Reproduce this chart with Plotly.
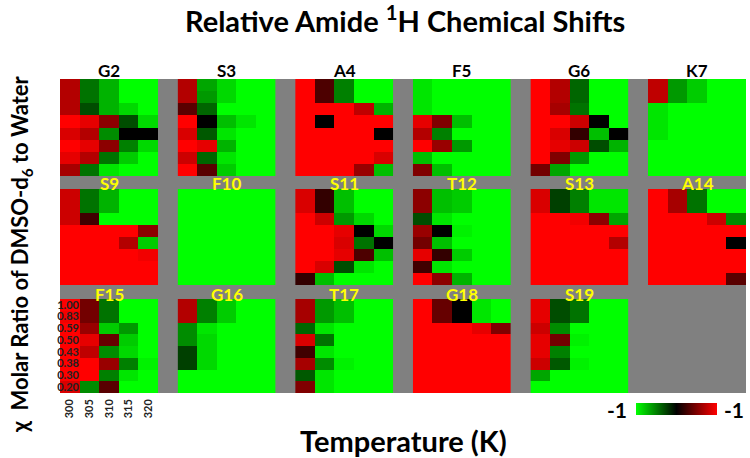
import plotly.graph_objects as go

W, H = 750, 458

temperatures = [300, 305, 310, 315, 320]
ratios = ["1.00", "0.83", "0.59", "0.50", "0.43", "0.38", "0.30", "0.20"]
residues = ["G2", "S3", "A4", "F5", "G6", "K7",
            "S9", "F10", "S11", "T12", "S13", "A14",
            "F15", "G16", "T17", "G18", "S19"]

G2 = [[0.7, -0.45, -0.7, -1, -1],
      [0.7, -0.45, -0.7, -1, -1],
      [0.7, -0.3, -0.7, -0.85, -1],
      [1, 0.9, 0.55, -0.3, -0.85],
      [0.85, 0.7, -0.55, 0, 0],
      [1, 0.9, 0.55, -0.5, -0.85],
      [0.9, 0.7, -0.45, -0.8, -1],
      [0.65, -0.45, -0.9, -1, -1]]
S3 = [[0.7, -0.65, -0.85, -1, -1],
      [0.7, -0.6, -0.85, -1, -1],
      [0.35, -0.4, -1, -1, -1],
      [1, 0, -0.75, -0.9, -1],
      [0.85, -0.35, -0.9, -1, -1],
      [1, 0.9, -0.7, -1, -1],
      [0.8, -0.4, -0.9, -1, -1],
      [1, 0.35, -0.8, -1, -1]]
A4 = [[1, 0.3, -0.5, -1, -1],
      [1, 0.3, -0.5, -1, -1],
      [1, 1, 1, 0.75, -0.7],
      [1, 0, 1, 1, 1],
      [1, 1, 1, 1, 0],
      [1, 1, 1, 1, 1],
      [1, 1, 1, 1, 0.85],
      [1, 1, 1, 0.6, -0.75]]
F5 = [[-0.9, -1, -1, -1, -1],
      [-0.9, -1, -1, -1, -1],
      [-0.9, -1, -1, -1, -1],
      [0.9, 0.5, -0.75, -1, -1],
      [0.7, -0.5, -1, -1, -1],
      [1, 0.6, -0.6, -1, -1],
      [-0.75, -1, -1, -1, -1],
      [0.5, -0.75, -1, -1, -1]]
G6 = [[1, 0.7, -0.4, -1, -1],
      [1, 0.7, -0.4, -1, -1],
      [1, 0.65, -0.45, -1, -1],
      [1, 1, 0.8, 0, -1],
      [1, 0.85, 0.2, -0.75, 0],
      [1, 0.9, 0.8, -0.3, -0.7],
      [1, 0.5, -0.6, -1, -1],
      [0.45, -0.65, -1, -1, -1]]
K7 = [[0.75, -0.6, -0.8, -1, -1],
      [0.75, -0.6, -0.8, -1, -1],
      [-0.9, -1, -1, -1, -1],
      [-0.9, -1, -1, -1, -1],
      [-0.9, -1, -1, -1, -1],
      [-1, -1, -1, -1, -1],
      [-1, -1, -1, -1, -1],
      [-1, -1, -1, -1, -1]]
S9 = [[0.8, -0.45, -0.7, -1, -1],
      [0.8, -0.45, -0.7, -1, -1],
      [0.8, 0.25, -1, -1, -1],
      [1, 1, 1, 1, 0.55],
      [1, 1, 1, 0.7, -0.8],
      [1, 1, 1, 1, 0.95],
      [1, 1, 1, 1, 1],
      [1, 1, 1, 1, 1]]
F10 = [[-1, -1, -1, -1, -1] for _ in range(8)]
S11 = [[0.85, 0.2, -0.75, -1, -1],
       [0.85, 0.2, -0.75, -1, -1],
       [1, 0.8, -0.6, -0.85, -1],
       [1, 1, 0.9, 0, -0.85],
       [1, 1, 0.85, -0.45, 0],
       [1, 1, 0.9, 0.3, -0.75],
       [1, 0.85, -0.3, -0.9, -1],
       [0.2, -0.75, -1, -1, -1]]
T12 = [[0.55, -0.75, -0.8, -1, -1],
       [0.55, -0.75, -0.8, -1, -1],
       [-0.3, -0.9, -1, -1, -1],
       [0.6, 0, -0.95, -1, -1],
       [0.45, -0.75, -1, -1, -1],
       [0.9, 0.2, -0.8, -1, -1],
       [0.25, -0.9, -1, -1, -1],
       [1, 0.55, -0.7, -1, -1]]
S13 = [[0.85, -0.25, -0.5, -0.9, -0.9],
       [0.85, -0.25, -0.5, -0.9, -0.9],
       [1, 1, 0.95, 0.55, -0.65],
       [1, 1, 1, 1, 1],
       [1, 1, 1, 1, 0.7],
       [1, 1, 1, 1, 1],
       [1, 1, 1, 1, 1],
       [1, 1, 1, 1, 1]]
A14 = [[1, 0.65, -0.45, -1, -1],
       [1, 0.65, -0.45, -1, -1],
       [1, 1, 1, 0.8, -0.55],
       [1, 1, 1, 1, 1],
       [1, 1, 1, 1, 0],
       [1, 1, 1, 1, 1],
       [1, 1, 1, 1, 1],
       [1, 1, 1, 1, 0.35]]
F15 = [[1, 0.45, -0.45, -1, -1],
       [0.95, 0.45, -0.45, -1, -1],
       [1, 0.6, -0.8, -0.6, -1],
       [1, 0.9, 0.4, -0.8, -1],
       [1, 0.75, -0.55, -0.85, -1],
       [1, 1, 0.6, -0.5, -0.95],
       [1, 1, -0.5, -0.9, -1],
       [0.85, -0.55, 0.35, -1, -1]]
G16 = [[0.7, -0.5, -0.8, -1, -1],
       [0.7, -0.5, -0.8, -1, -1],
       [-0.55, -0.9, -1, -1, -1],
       [-0.55, -0.85, -1, -1, -1],
       [-0.25, -0.85, -1, -1, -1],
       [-0.25, -0.85, -1, -1, -1],
       [-1, -1, -1, -1, -1],
       [-1, -1, -1, -1, -1]]
T17 = [[0.65, -0.6, -0.75, -1, -1],
       [0.65, -0.6, -0.75, -1, -1],
       [-0.4, -0.9, -1, -1, -1],
       [0.85, -0.45, -1, -1, -1],
       [0.25, -0.9, -1, -1, -1],
       [0.65, -0.55, -0.95, -1, -1],
       [-0.35, -0.9, -1, -1, -1],
       [0.5, -0.9, -1, -1, -1]]
G18 = [[1, 0.4, 0, -0.9, -1],
       [1, 0.4, 0, -0.9, -1],
       [1, 1, 1, 0.9, 0.5],
       [1, 1, 1, 1, 1],
       [1, 1, 1, 1, 1],
       [1, 1, 1, 1, 1],
       [1, 1, 1, 1, 1],
       [1, 1, 1, 1, 1]]
S19 = [[0.9, -0.3, -0.45, -1, -1],
       [0.9, -0.3, -0.45, -1, -1],
       [0.8, -0.55, -1, -1, -1],
       [0.9, 0.45, -0.95, -1, -1],
       [0.9, -0.5, -1, -1, -1],
       [0.8, -0.35, -0.95, -1, -1],
       [-0.65, -1, -1, -1, -1],
       [-1, -1, -1, -1, -1]]

panel_values = [G2, S3, A4, F5, G6, K7, S9, F10, S11, T12, S13, A14,
                F15, G16, T17, G18, S19]

FONT = "Lato"
GRAY = "#808080"
colorscale = [[0.0, "#00ff00"], [0.5, "#000000"], [1.0, "#ff0000"]]

col_left = [60 + i * 117.6 for i in range(6)]
panel_w = 98
row_top = [79, 189, 299]
row_bot = [176, 285, 393]


def px(x):
    return x / W


def py(y):
    return 1 - y / H


fig = go.Figure()
annotations = []

for i, (name, z) in enumerate(zip(residues, panel_values)):
    r, c = divmod(i, 6)
    k = i + 1
    xa = "x" if k == 1 else f"x{k}"
    ya = "y" if k == 1 else f"y{k}"
    show_cb = (i == 0)
    fig.add_trace(go.Heatmap(
        z=z, x=temperatures, y=ratios,
        colorscale=colorscale, zmin=-1, zmax=1,
        xaxis=xa, yaxis=ya, showscale=show_cb, hoverinfo="skip",
        colorbar=dict(orientation="h", x=px(676.5), xanchor="center",
                      y=py(409), yanchor="middle", len=81 / W,
                      lenmode="fraction", thickness=12, xpad=0, ypad=0,
                      showticklabels=False, ticks="", outlinewidth=0),
    ))
    is_label_panel = (name == "F15")
    xkey = "xaxis" if k == 1 else f"xaxis{k}"
    ykey = "yaxis" if k == 1 else f"yaxis{k}"
    fig.update_layout(**{
        xkey: dict(domain=[px(col_left[c]), px(col_left[c] + panel_w)],
                   anchor=ya, range=[297.5, 322.5], showgrid=False,
                   zeroline=False, showline=False, ticks="",
                   tickmode="array", tickvals=temperatures,
                   ticktext=[f"<b>{t}</b>" for t in temperatures],
                   tickangle=-90, showticklabels=is_label_panel,
                   tickfont=dict(family=FONT, size=11, color="#222"),
                   ticklabelstandoff=3),
        ykey: dict(domain=[py(row_bot[r]), py(row_top[r])],
                   anchor=xa, range=[7.5, -0.5], showgrid=False,
                   zeroline=False, showline=False, ticks="",
                   type="category",
                   tickmode="array", tickvals=ratios,
                   ticktext=[f"<b>{v}</b>" for v in ratios],
                   showticklabels=is_label_panel,
                   tickfont=dict(family=FONT, size=11, color="#222"),
                   ticklabelstandoff=-20),
    })
    cx = col_left[c] + panel_w / 2
    if r == 0:
        annotations.append(dict(x=px(cx), y=py(71), xref="paper", yref="paper",
                                text=f"<b>{name}</b>", showarrow=False,
                                font=dict(family=FONT, size=17, color="black"),
                                xanchor="center", yanchor="middle"))
    else:
        ly = 183 if r == 1 else 294
        annotations.append(dict(x=px(cx), y=py(ly), xref="paper", yref="paper",
                                text=f"<b>{name}</b>", showarrow=False,
                                font=dict(family=FONT, size=17, color="#ffff00"),
                                xanchor="center", yanchor="middle"))

annotations += [
    dict(x=px(405), y=py(19), xref="paper", yref="paper",
         text="<b>Relative Amide <sup>1</sup>H Chemical Shifts</b>",
         showarrow=False, font=dict(family=FONT, size=29, color="black"),
         xanchor="center", yanchor="middle"),
    dict(x=px(403), y=py(440), xref="paper", yref="paper",
         text="<b>Temperature (K)</b>", showarrow=False,
         font=dict(family=FONT, size=29, color="black"),
         xanchor="center", yanchor="middle"),
    dict(x=px(21), y=py(254), xref="paper", yref="paper",
         text="<b>χ  Molar Ratio of DMSO-d<sub>6</sub> to Water</b>",
         textangle=-90, showarrow=False,
         font=dict(family=FONT, size=22, color="black"),
         xanchor="center", yanchor="middle"),
    dict(x=px(617), y=py(409), xref="paper", yref="paper",
         text="<b>-1</b>", showarrow=False,
         font=dict(family=FONT, size=21, color="black"),
         xanchor="center", yanchor="middle"),
    dict(x=px(734), y=py(409), xref="paper", yref="paper",
         text="<b>-1</b>", showarrow=False,
         font=dict(family=FONT, size=21, color="black"),
         xanchor="center", yanchor="middle"),
]

fig.update_layout(
    width=W, height=H, margin=dict(l=0, r=0, t=0, b=0),
    paper_bgcolor="white", plot_bgcolor=GRAY,
    annotations=annotations,
    shapes=[dict(type="rect", xref="paper", yref="paper", layer="below",
                 x0=px(60), x1=px(746), y0=py(393), y1=py(79),
                 fillcolor=GRAY, line=dict(width=0))],
    showlegend=False,
)

fig.write_html("out.html", config={"displayModeBar": False},
               post_script="document.body.style.margin='0px';")
